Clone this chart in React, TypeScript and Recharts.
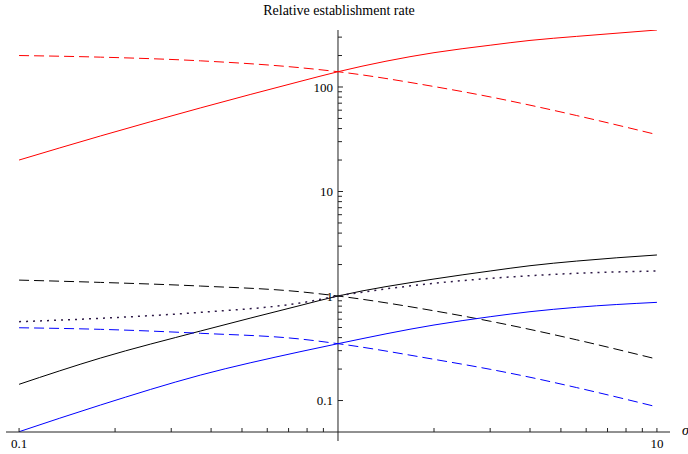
import React from 'react';
import { LineChart, Line, XAxis, YAxis, ReferenceLine, ReferenceDot } from 'recharts';

// sigma sample points (x axis, log scale)
const sigma = [0.1, 0.18, 0.37, 0.76, 1, 2, 3, 4, 5.6, 10];

// series values (y axis, log scale)
const redSolid = [20.0, 34, 63, 113, 140, 213, 251, 279, 305, 351];
const redDashed = [200, 193, 178, 153, 140, 101, 80.4, 67, 53.3, 35];
const blackSolid = [0.143, 0.255, 0.462, 0.811, 1, 1.455, 1.735, 1.95, 2.16, 2.47];
const blackDashed = [1.42, 1.35, 1.246, 1.099, 1, 0.722, 0.574, 0.479, 0.381, 0.249];
const blackDotted = [0.568, 0.612, 0.698, 0.857, 1, 1.323, 1.476, 1.564, 1.649, 1.735];
const blueSolid = [0.0503, 0.0906, 0.175, 0.293, 0.35, 0.528, 0.634, 0.708, 0.78, 0.87];
const blueDashed = [0.497, 0.48, 0.44, 0.388, 0.35, 0.248, 0.199, 0.167, 0.133, 0.087];

// ticks
const xMajorTicks = [0.1, 10];
const xMajorLabels = ['0.1', '10'];
const xMinorTicks = [0.2, 0.3, 0.4, 0.5, 0.6, 0.7, 0.8, 0.9, 2, 3, 4, 5, 6, 7, 8, 9];
const yMajorTicks = [0.1, 1, 10, 100];
const yMajorLabels = ['0.1', '1', '10', '100'];
const yMinorTicks = [
  0.2, 0.3, 0.4, 0.5, 0.6, 0.7, 0.8, 0.9,
  2, 3, 4, 5, 6, 7, 8, 9,
  20, 30, 40, 50, 60, 70, 80, 90,
  200, 300,
];

const title = 'Relative establishment rate';
const xLabel = 'σ';

const X_DOMAIN: [number, number] = [0.091, 10.99];
const Y_DOMAIN: [number, number] = [0.05, 351];
const Y_AXIS_LINE: [number, number] = [0.041, 351];

const data = sigma.map((s, i) => ({
  sigma: s,
  redSolid: redSolid[i],
  redDashed: redDashed[i],
  blackSolid: blackSolid[i],
  blackDashed: blackDashed[i],
  blackDotted: blackDotted[i],
  blueSolid: blueSolid[i],
  blueDashed: blueDashed[i],
}));

const AXIS = '#222';
const FONT = '"Liberation Serif", "DejaVu Serif", serif';

function XTick(props: any) {
  const { x, y, payload } = props;
  const v = payload.value;
  const idx = xMajorTicks.indexOf(v);
  return (
    <g>
      <line x1={x} x2={x} y1={y} y2={y - 4} stroke={AXIS} strokeWidth={1} />
      {idx >= 0 && (
        <text x={x} y={y + 16} textAnchor="middle" fontFamily={FONT} fontSize={13} fill="#000">
          {xMajorLabels[idx]}
        </text>
      )}
    </g>
  );
}

export default function App() {
  const allXTicks = [...xMajorTicks, ...xMinorTicks].sort((a, b) => a - b);
  return (
    <div
      style={{
        position: 'absolute',
        left: 0,
        top: 0,
        width: 688,
        height: 454,
        overflow: 'hidden',
        background: '#fff',
      }}
    >
      <div
        style={{
          position: 'absolute',
          left: 0,
          width: 678,
          top: 3,
          textAlign: 'center',
          fontFamily: FONT,
          fontSize: 14,
          color: '#000',
        }}
      >
        {title}
      </div>
      <div
        style={{
          position: 'absolute',
          left: 682,
          top: 423,
          fontFamily: FONT,
          fontSize: 14,
          fontStyle: 'italic',
          color: '#000',
          whiteSpace: 'nowrap',
        }}
      >
        {xLabel}
      </div>
      <LineChart
        width={688}
        height={454}
        data={data}
        margin={{ top: 30, right: 18, bottom: 0, left: 6 }}
        style={{ position: 'absolute', left: 0, top: 0 }}
      >
        <XAxis
          dataKey="sigma"
          type="number"
          scale="log"
          domain={X_DOMAIN}
          allowDataOverflow
          ticks={allXTicks}
          interval={0}
          height={22}
          tickSize={0}
          tickMargin={0}
          tickLine={false}
          axisLine={{ stroke: AXIS, strokeWidth: 1 }}
          tick={<XTick />}
        />
        <YAxis type="number" scale="log" domain={Y_DOMAIN} allowDataOverflow hide />
        <ReferenceLine
          segment={[
            { x: 1, y: Y_AXIS_LINE[0] },
            { x: 1, y: Y_AXIS_LINE[1] },
          ]}
          stroke={AXIS}
          strokeWidth={1}
          ifOverflow="visible"
        />
        {yMinorTicks.map((v) => (
          <ReferenceDot
            key={'ymin' + v}
            x={1}
            y={v}
            r={0}
            ifOverflow="visible"
            shape={(p: any) => (
              <line x1={p.cx} x2={p.cx + 4} y1={p.cy} y2={p.cy} stroke={AXIS} strokeWidth={1} />
            )}
          />
        ))}
        {yMajorTicks.map((v, i) => (
          <ReferenceDot
            key={'ymaj' + v}
            x={1}
            y={v}
            r={0}
            ifOverflow="visible"
            shape={(p: any) => (
              <g>
                <line x1={p.cx} x2={p.cx + 5} y1={p.cy} y2={p.cy} stroke={AXIS} strokeWidth={1} />
                <text
                  x={p.cx - 5}
                  y={p.cy}
                  dy="0.35em"
                  textAnchor="end"
                  fontFamily={FONT}
                  fontSize={13}
                  fill="#000"
                >
                  {yMajorLabels[i]}
                </text>
              </g>
            )}
          />
        ))}
        <Line dataKey="redSolid" type="monotone" stroke="#ff0000" strokeWidth={1} dot={false} activeDot={false} isAnimationActive={false} />
        <Line dataKey="redDashed" type="monotone" stroke="#ff0000" strokeWidth={1} strokeDasharray="10 5" dot={false} activeDot={false} isAnimationActive={false} />
        <Line dataKey="blackSolid" type="monotone" stroke="#000000" strokeWidth={1} dot={false} activeDot={false} isAnimationActive={false} />
        <Line dataKey="blackDashed" type="monotone" stroke="#000000" strokeWidth={1} strokeDasharray="10 5" dot={false} activeDot={false} isAnimationActive={false} />
        <Line dataKey="blackDotted" type="monotone" stroke="#2e1a47" strokeWidth={1.5} strokeDasharray="2 5" dot={false} activeDot={false} isAnimationActive={false} />
        <Line dataKey="blueSolid" type="monotone" stroke="#0000ff" strokeWidth={1} dot={false} activeDot={false} isAnimationActive={false} />
        <Line dataKey="blueDashed" type="monotone" stroke="#0000ff" strokeWidth={1} strokeDasharray="10 5" dot={false} activeDot={false} isAnimationActive={false} />
      </LineChart>
    </div>
  );
}
